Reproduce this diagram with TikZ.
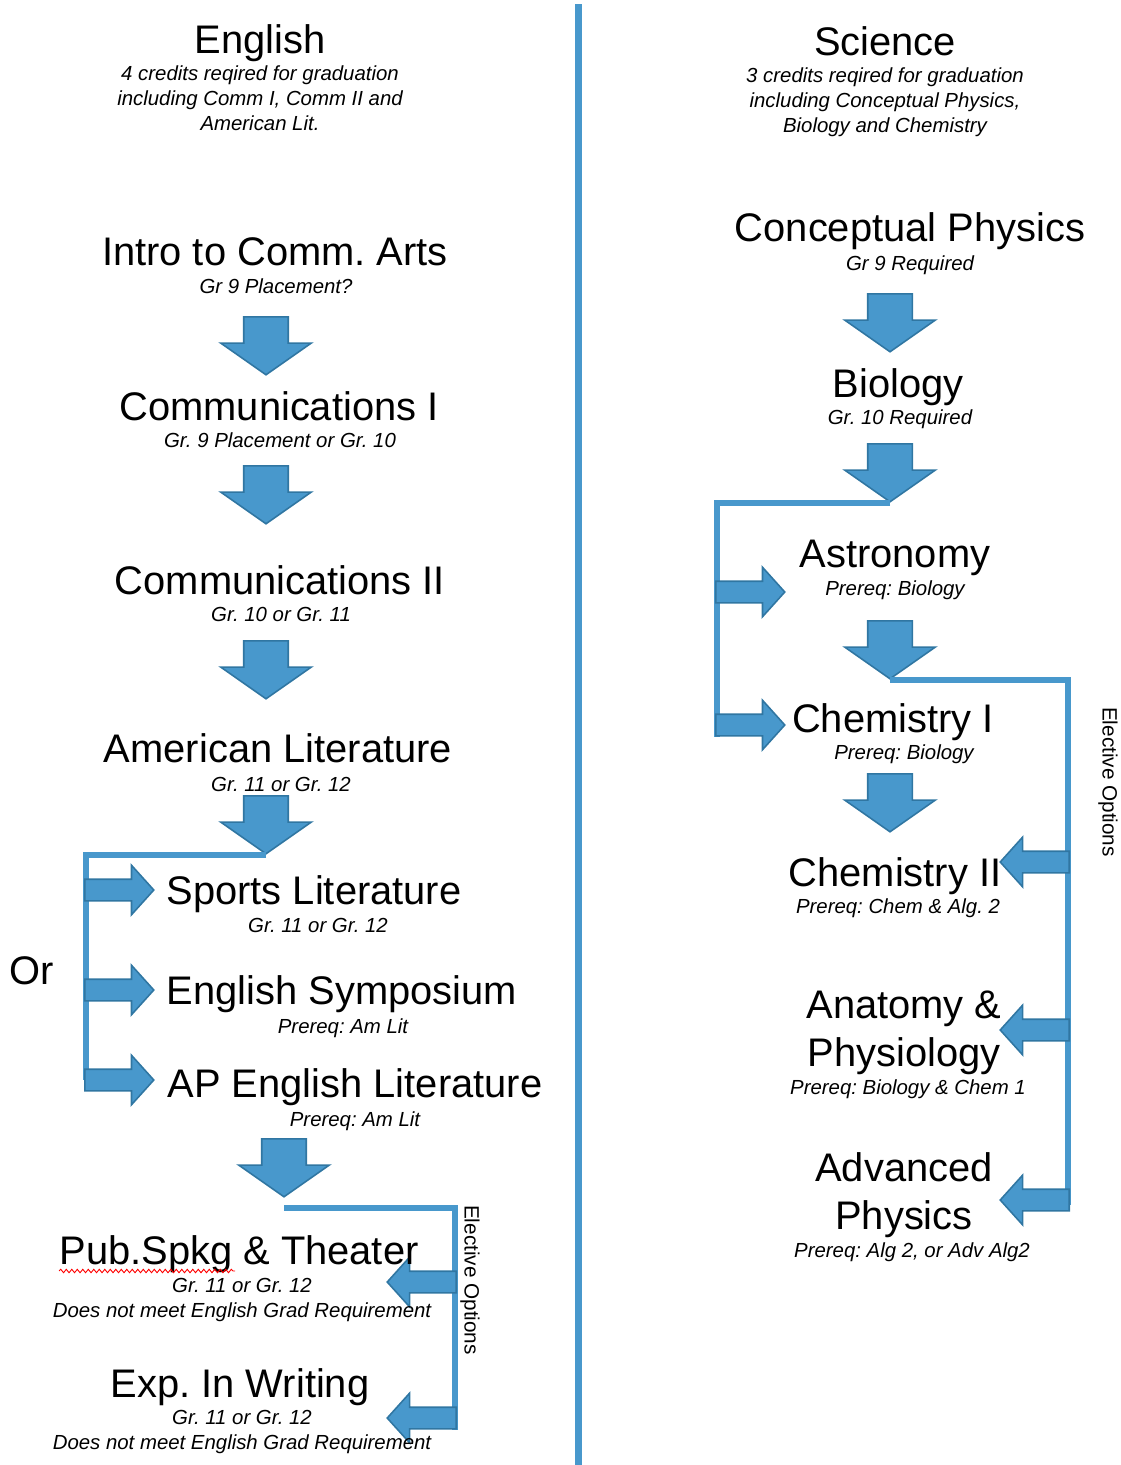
\documentclass[tikz,border=0pt]{standalone}
\usepackage{fontspec}
\setmainfont{Liberation Sans}
\usetikzlibrary{shapes.arrows, decorations.pathmorphing, calc}

\definecolor{arrowblue}{RGB}{72,152,204}
\definecolor{arrowedge}{RGB}{48,118,162}

\tikzset{
    course/.style={font=\fontsize{22.7}{27.3}\selectfont\frenchspacing, inner sep=0pt, anchor=base, align=center},
    note/.style={font=\fontsize{11.6}{14.2}\selectfont\itshape\frenchspacing, inner sep=0pt, anchor=base, align=center},
    sideways/.style={font=\fontsize{11.8}{14.2}\selectfont, inner sep=0pt, rotate=-90},
    downarr/.style={
        single arrow, draw=arrowedge, fill=arrowblue, line width=0.9pt, rotate=-90, anchor=tail,
        inner xsep=0pt, inner ysep=0.43cm, minimum height=1.16cm,
        single arrow head extend=0.46cm, single arrow tip angle=110
    },
    sidearr/.style={
        single arrow, draw=arrowedge, fill=arrowblue, line width=0.9pt, anchor=tail,
        inner xsep=0pt, inner ysep=0.2cm, minimum height=1.38cm,
        single arrow head extend=0.28cm, single arrow tip angle=96
    },
    branch/.style={draw=arrowblue, line width=0.12cm},
    spell/.style={draw=red, line width=0.5pt, decorate, decoration={snake, amplitude=0.035cm, segment length=0.11cm}},
}

\begin{document}
\begin{tikzpicture}[x=0.02cm, y=-0.02cm]

        \useasboundingbox (0,0) rectangle (1120,1465);

        % DIVIDER
        \draw[arrowblue, line width=0.14cm] (578,4) -- (578,1465);

        % ENGLISH (multi-line nodes sit on their last baseline)
        \node[course] (eng)       at (260,53)   {English};
        \node[note]   (engnote)   at (260,130)  {4 credits reqired for graduation\\including Comm I, Comm II and\\American Lit.};

        \node[course] (intro)     at (275,265)  {Intro to Comm. Arts};
        \node[note]   (intronote) at (276,293)  {Gr 9 Placement?};
        \node[downarr] (a1)       at (266,316)  {};

        \node[course] (comm1)     at (279,420)  {Communications I};
        \node[note]   (comm1note) at (280,447)  {Gr. 9 Placement or Gr. 10};
        \node[downarr] (a2)       at (266,465)  {};

        \node[course] (comm2)     at (280,594)  {Communications II};
        \node[note]   (comm2note) at (281,621)  {Gr. 10 or Gr. 11};
        \node[downarr] (a3)       at (266,640)  {};

        \node[course] (amlit)     at (278,762)  {American Literature};
        \node[note]   (amlitnote) at (281,791)  {Gr. 11 or Gr. 12};
        \node[downarr] (a4)       at (266,795)  {};

        % OR CHOICES
        \node[course] (orlbl)     at (32,984)   {Or};
        \coordinate   (orEnd)     at (86,1080);
        \draw[branch] (a4.tip) -| (orEnd);

        \node[sidearr] (toSports) at (84,890)   {};
        \node[sidearr] (toSymp)   at (84,990)   {};
        \node[sidearr] (toAP)     at (84,1080)  {};

        \node[course] (sports)     at (314,904)  {Sports Literature};
        \node[note]   (sportsnote) at (318,932)  {Gr. 11 or Gr. 12};
        \node[course] (symp)       at (342,1004) {English Symposium};
        \node[note]   (sympnote)   at (343,1033) {Prereq: Am Lit};
        \node[course] (ap)         at (355,1097) {AP English Literature};
        \node[note]   (apnote)     at (355,1126) {Prereq: Am Lit};
        \node[downarr] (a5)        at (284,1138) {};

        % ENGLISH ELECTIVES
        \coordinate   (electLEnd) at (455,1430);
        \draw[branch] ([yshift=-0.2cm]a5.tip) -| (electLEnd);
        \node[sideways] (electL)  at (470,1280) {Elective Options};
        \node[sidearr, rotate=180] (toPub) at (457,1282) {};
        \node[sidearr, rotate=180] (toExp) at (457,1418) {};

        \node[course] (pub)       at (239,1264) {Pub.Spkg \& Theater};
        \draw[spell] ([yshift=-0.14cm]pub.base west) -- ++(176,0);
        \node[note]   (pubnote)   at (242,1317) {Gr. 11 or Gr. 12\\Does not meet English Grad Requirement};
        \node[course] (exp)       at (240,1397) {Exp. In Writing};
        \node[note]   (expnote)   at (242,1449) {Gr. 11 or Gr. 12\\Does not meet English Grad Requirement};

        % SCIENCE
        \node[course] (sci)       at (885,55)   {Science};
        \node[note]   (scinote)   at (885,132)  {3 credits reqired for graduation\\including Conceptual Physics,\\Biology and Chemistry};

        \node[course] (cphys)     at (910,241)  {Conceptual Physics};
        \node[note]   (cphysnote) at (910,270)  {Gr 9 Required};
        \node[downarr] (b1)       at (890,293)  {};

        \node[course] (bio)       at (898,397)  {Biology};
        \node[note]   (bionote)   at (900,424)  {Gr. 10 Required};
        \node[downarr] (b2)       at (890,443)  {};

        % SCIENCE CHOICES
        \coordinate   (bioFork)   at (717,737);
        \draw[branch] (b2.tip) -| (bioFork);
        \node[sidearr] (toAstro)  at (715,592)  {};
        \node[sidearr] (toChem1)  at (715,725)  {};

        \node[course] (astro)     at (895,567)  {Astronomy};
        \node[note]   (astronote) at (895,595)  {Prereq: Biology};
        \node[downarr] (b3)       at (890,620)  {};

        \node[course] (chem1)     at (893,732)  {Chemistry I};
        \node[note]   (chem1note) at (904,759)  {Prereq: Biology};
        \node[downarr] (b4)       at (890,773)  {};

        % SCIENCE ELECTIVES
        \coordinate   (electREnd) at (1068,1205);
        \draw[branch] (b3.tip) -| (electREnd);
        \node[sideways] (electR)  at (1108,782) {Elective Options};

        \node[course] (chem2)     at (895,886)  {Chemistry II};
        \node[note]   (chem2note) at (898,913)  {Prereq: Chem \& Alg. 2};
        \node[course] (anat)      at (904,1066) {Anatomy \&\\Physiology};
        \node[note]   (anatnote)  at (908,1094) {Prereq: Biology \& Chem 1};
        \node[course] (adv)       at (904,1229) {Advanced\\Physics};
        \node[note]   (advnote)   at (912,1257) {Prereq: Alg 2, or Adv Alg2};

        \node[sidearr, rotate=180] (toChem2) at (1070,862)  {};
        \node[sidearr, rotate=180] (toAnat)  at (1070,1030) {};
        \node[sidearr, rotate=180] (toAdv)   at (1070,1200) {};

\end{tikzpicture}
\end{document}
